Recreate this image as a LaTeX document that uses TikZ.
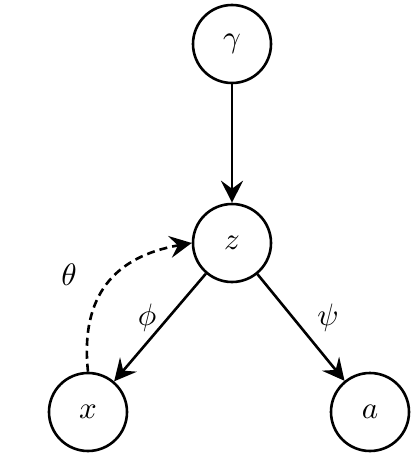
\documentclass[tikz,border=0pt]{standalone}
\usepackage{graphicx}
\usetikzlibrary{arrows.meta}
\newcommand{\symlbl}[1]{\scalebox{3.1}{$#1$}}
\begin{document}
\begin{tikzpicture}[x=1pt,y=-1pt,
  var/.style={circle,draw,line width=2.6pt,minimum size=78pt,inner sep=0pt},
  edge/.style={line width=2.6pt,-{Stealth[length=22pt,width=22pt,inset=8pt]}},
  lbl/.style={inner sep=0pt}]
\useasboundingbox (0,0) rectangle (416,460);
\node[var] (g) at (232,44) {\symlbl{\gamma}};
\node[var] (z) at (232,243) {\symlbl{z}};
\node[var] (x) at (88,412) {\symlbl{x}};
\node[var] (a) at (370,412) {\symlbl{a}};
\draw[edge] (g) -- (z);
\draw[edge] (z) -- (x);
\draw[edge] (z) -- (a);
\draw[edge,dash pattern=on 8pt off 5pt] (x.north) to[out=96,in=190,looseness=1.2] (z.west);
\node[lbl] (phi) at (147,318) {\symlbl{\phi}};
\node[lbl] (psi) at (328,318) {\symlbl{\psi}};
\node[lbl] (th) at (69,275) {\symlbl{\theta}};
\end{tikzpicture}
\end{document}
